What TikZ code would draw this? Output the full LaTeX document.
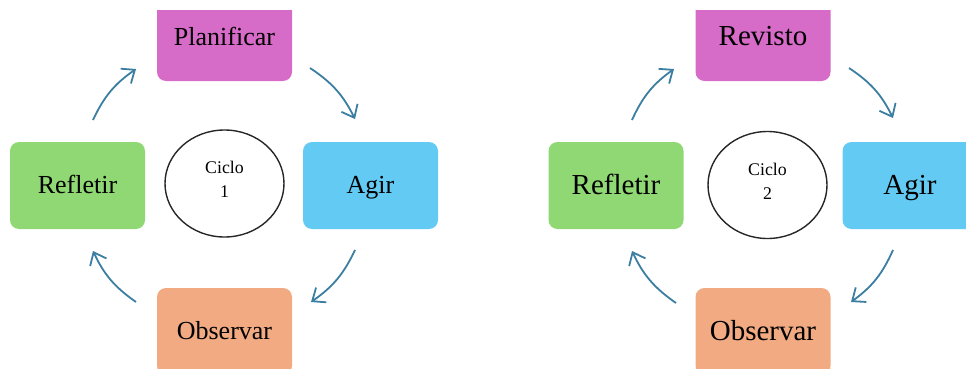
\documentclass[tikz,border=0pt]{standalone}
\usepackage{fontspec}
\setmainfont{Liberation Serif}
\usetikzlibrary{arrows.meta,shapes.geometric}
\definecolor{cplan}{HTML}{D66BC8}
\definecolor{cagir}{HTML}{63CBF3}
\definecolor{crefl}{HTML}{8FD873}
\definecolor{cobs}{HTML}{F2AA82}
\definecolor{carrow}{HTML}{3B7EA1}
\begin{document}
\begin{tikzpicture}[x=1pt,y=-1pt,
  box/.style={rectangle, rounded corners=9pt, minimum width=135pt, minimum height=87pt, inner sep=0pt},
  lbox/.style={box, font=\fontsize{26}{30}\selectfont, text height=18pt, text depth=2pt},
  rbox/.style={box, font=\fontsize{29}{33}\selectfont, text height=20pt, text depth=3pt},
  cyc/.style={ellipse, draw=black!85, line width=1.4pt, minimum width=119pt, minimum height=107pt, inner sep=0pt},
  cyctext/.style={align=center, inner sep=0pt, font=\fontsize{17.8}{24}\selectfont},
  flow/.style={draw=carrow, line width=1.8pt, -{Straight Barb[length=11pt,width=18pt,line width=1.8pt]}, bend left=15}]
\useasboundingbox (0,0) rectangle (966,369);
% top boxes, cut at the top
\begin{scope}
  \clip (0,11) rectangle (966,400);
  \node[lbox, fill=cplan] (plan1) at (224.5,37.5) {Planificar};
  \node[rbox, fill=cplan] (plan2) at (763,37.5) {Revisto};
\end{scope}
% left cycle
\node[lbox, fill=cagir] (agir1) at (370.5,185.5) {Agir};
\node[lbox, fill=crefl] (refl1) at (77.5,185.5) {Refletir};
\node[lbox, fill=cobs] (obs1) at (224.5,331.5) {Observar};
\node[cyc] (cic1) at (224.5,183.5) {};
\node[cyctext] (cic1t) at (224.5,179) {Ciclo\\1};
% right cycle
\node[rbox, fill=cagir] (agir2) at (910,185.5) {Agir};
\node[rbox, fill=crefl] (refl2) at (616,185.5) {Refletir};
\node[rbox, fill=cobs] (obs2) at (763,331.5) {Observar};
\node[cyc] (cic2) at (767.5,185) {};
\node[cyctext] (cic2t) at (767.5,181) {Ciclo\\2};
% arrow end points, left
\coordinate (a1s) at (93,120);  \coordinate (a1e) at (136,69);
\coordinate (b1s) at (310,68);  \coordinate (b1e) at (355,119);
\coordinate (c1s) at (355,250); \coordinate (c1e) at (311,302);
\coordinate (d1s) at (136,302); \coordinate (d1e) at (93,251);
% arrow end points, right
\coordinate (a2s) at (632,120); \coordinate (a2e) at (674,69);
\coordinate (b2s) at (849,68);  \coordinate (b2e) at (893,118);
\coordinate (c2s) at (893,250); \coordinate (c2e) at (851,302);
\coordinate (d2s) at (676,303); \coordinate (d2e) at (632,251);
\foreach \p in {a,b,c,d}{
  \draw[flow] (\p1s) to (\p1e);
  \draw[flow] (\p2s) to (\p2e);
}
\end{tikzpicture}
\end{document}
